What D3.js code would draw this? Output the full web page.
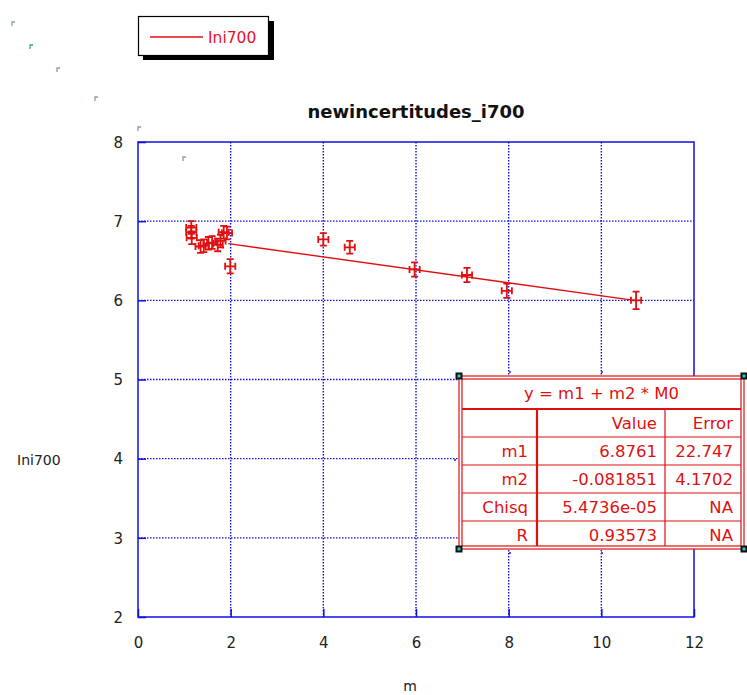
<!DOCTYPE html>
<html><head><meta charset="utf-8">
<script src="https://cdn.jsdelivr.net/npm/d3@7"></script>
<style>body{margin:0;background:#fff}svg{display:block}</style>
</head><body>
<script>
const mValues = [1.15, 1.15, 1.16, 1.35, 1.42, 1.52, 1.60, 1.72, 1.78, 1.85, 1.92, 1.99, 4.00, 4.57, 5.97, 7.10, 7.96, 10.75];
const iniValues = [6.92, 6.86, 6.79, 6.68, 6.69, 6.72, 6.73, 6.70, 6.75, 6.86, 6.85, 6.43, 6.77, 6.67, 6.39, 6.32, 6.12, 6.00];
const yErrors = [0.08, 0.08, 0.08, 0.08, 0.08, 0.08, 0.08, 0.08, 0.08, 0.08, 0.08, 0.09, 0.08, 0.08, 0.09, 0.09, 0.09, 0.11];
const xErrors = [0.11, 0.11, 0.11, 0.11, 0.11, 0.11, 0.11, 0.11, 0.11, 0.11, 0.11, 0.11, 0.11, 0.11, 0.11, 0.11, 0.11, 0.11];
const xTicks = [0, 2, 4, 6, 8, 10, 12];
const yTicks = [2, 3, 4, 5, 6, 7, 8];
const fitParams = {m1: 6.8761, m2: -0.081851};
const fitRange = [1.95, 10.75];
const tableTitle = "y = m1 + m2 * M0";
const tableHeader = ["", "Value", "Error"];
const tableRows = [["m1", "6.8761", "22.747"], ["m2", "-0.081851", "4.1702"], ["Chisq", "5.4736e-05", "NA"], ["R", "0.93573", "NA"]];
const seriesName = "Ini700";
const chartTitle = "newincertitudes_i700";
const xLabel = "m", yLabel = "Ini700";

const W = 747, H = 695;
const red = "#e01010", blue = "#1010e0";
const font = "DejaVu Sans, sans-serif";
const svg = d3.select("body").append("svg").attr("width", W).attr("height", H);

const L = 138, R = 694, T = 142, B = 617;
const x = d3.scaleLinear().domain([0, 12]).range([L, R]);
const y = d3.scaleLinear().domain([2, 8]).range([B, T]);

// stray marks top-left
const marks = [[12,22],[30,45],[57,68],[95,97],[138,127],[183,157]];
svg.append("g").selectAll("path").data(marks).join("path")
  .attr("d", d => `M${d[0]},${d[1]+4}V${d[1]}H${d[0]+3}`)
  .attr("fill", "none").attr("stroke", (d,i) => i===1 ? "#3a7" : "#889ab0").attr("stroke-width", 1.3);

// gridlines
const grid = svg.append("g");
grid.selectAll(".gx").data(xTicks.slice(1, -1)).join("line")
  .attr("x1", d => x(d)).attr("x2", d => x(d)).attr("y1", T).attr("y2", B)
  .attr("stroke", blue).attr("stroke-width", 1.4).attr("stroke-dasharray", "1.5,1.5");
grid.selectAll(".gy").data(yTicks.slice(1, -1)).join("line")
  .attr("y1", d => y(d)).attr("y2", d => y(d)).attr("x1", L).attr("x2", R)
  .attr("stroke", blue).attr("stroke-width", 1.4).attr("stroke-dasharray", "1.5,1.5");

// axes
const xAxis = d3.axisBottom(x).tickValues(xTicks).tickSize(-8).tickPadding(20).tickFormat(d3.format("d"));
const yAxis = d3.axisLeft(y).tickValues(yTicks).tickSize(-8).tickPadding(15).tickFormat(d3.format("d"));
const gx = svg.append("g").attr("transform", `translate(0,${B})`).call(xAxis);
const gy = svg.append("g").attr("transform", `translate(${L},0)`).call(yAxis);
[gx, gy].forEach(g => {
  g.select(".domain").remove();
  g.selectAll(".tick line").attr("stroke", blue).attr("stroke-width", 1.5);
  g.selectAll(".tick text").attr("fill", "#222").attr("font-family", font).attr("font-size", 15);
});
gy.selectAll(".tick text").attr("dy", "0.35em");
svg.append("rect").attr("x", L).attr("y", T).attr("width", R - L).attr("height", B - T)
  .attr("fill", "none").attr("stroke", blue).attr("stroke-width", 1.5);

// fit line
const fitLine = d3.line().x(d => x(d)).y(d => y(fitParams.m1 + fitParams.m2 * d));
svg.append("path").datum(fitRange).attr("d", fitLine)
  .attr("fill", "none").attr("stroke", red).attr("stroke-width", 1.4);

// error-bar markers
const pts = mValues.map((m, i) => ({m, v: iniValues[i], ey: yErrors[i], ex: xErrors[i]}));
const cap = 3.5;
svg.append("g").selectAll("path").data(pts).join("path")
  .attr("d", d => {
    const cx = x(d.m), cy = y(d.v);
    const x0 = x(d.m - d.ex), x1 = x(d.m + d.ex), y0 = y(d.v + d.ey), y1 = y(d.v - d.ey);
    return `M${cx},${y0}V${y1}M${cx-cap},${y0}H${cx+cap}M${cx-cap},${y1}H${cx+cap}` +
           `M${x0},${cy}H${x1}M${x0},${cy-cap}V${cy+cap}M${x1},${cy-cap}V${cy+cap}`;
  })
  .attr("fill", "none").attr("stroke", red).attr("stroke-width", 1.8);

// title and labels
svg.append("text").attr("x", (L + R) / 2).attr("y", 118).attr("text-anchor", "middle")
  .attr("font-family", font).attr("font-weight", "bold").attr("font-size", 18).attr("fill", "#111").text(chartTitle);
svg.append("text").attr("x", 17).attr("y", 465).attr("font-family", font).attr("font-size", 14).attr("fill", "#222").text(yLabel);
svg.append("text").attr("x", 410).attr("y", 691).attr("text-anchor", "middle").attr("font-family", font).attr("font-size", 14).attr("fill", "#222").text(xLabel);

// legend
const lg = svg.append("g");
lg.append("rect").attr("x", 143).attr("y", 21).attr("width", 131).attr("height", 39).attr("fill", "#000");
lg.append("rect").attr("x", 138.5).attr("y", 16.5).attr("width", 130).attr("height", 39).attr("fill", "#fff").attr("stroke", "#000").attr("stroke-width", 1.2);
lg.append("line").attr("x1", 150).attr("x2", 203).attr("y1", 37).attr("y2", 37).attr("stroke", red).attr("stroke-width", 1.3);
lg.append("text").attr("x", 208).attr("y", 43).attr("font-family", font).attr("font-size", 15.5).attr("fill", "#e8102c").text(seriesName);

// fit table
const tx0 = 459, tx1 = 744, ty0 = 376, ty1 = 549;
const colX = [tx0, 537, 665, tx1];
const rowY = [ty0, 409, 437, 465, 493, 521, ty1];
const tg = svg.append("g");
tg.append("rect").attr("x", tx0).attr("y", ty0).attr("width", tx1 - tx0).attr("height", ty1 - ty0).attr("fill", "#fff").attr("stroke", red).attr("stroke-width", 1.2);
tg.append("rect").attr("x", tx0 + 3).attr("y", ty0 + 3).attr("width", tx1 - tx0 - 6).attr("height", ty1 - ty0 - 6).attr("fill", "none").attr("stroke", red).attr("stroke-width", 1.2);
tg.selectAll(".rl").data(rowY.slice(1, -1)).join("line")
  .attr("x1", tx0 + 3).attr("x2", tx1 - 3).attr("y1", d => d).attr("y2", d => d)
  .attr("stroke", red).attr("stroke-width", (d, i) => i === 0 ? 2.2 : 1.2);
tg.selectAll(".cl").data(colX.slice(1, -1)).join("line")
  .attr("x1", d => d).attr("x2", d => d).attr("y1", rowY[1]).attr("y2", ty1 - 3)
  .attr("stroke", red).attr("stroke-width", (d, i) => i === 0 ? 2.2 : 1.2);
tg.append("text").attr("x", (tx0 + tx1) / 2).attr("y", 399).attr("text-anchor", "middle")
  .attr("font-family", font).attr("font-size", 16.5).attr("fill", red).text(tableTitle);
const allRows = [tableHeader].concat(tableRows);
const rightEdges = [528, 657, 733];
allRows.forEach((row, r) => {
  row.forEach((cell, c) => {
    tg.append("text").attr("x", rightEdges[c]).attr("y", rowY[r + 1] + 20).attr("text-anchor", "end")
      .attr("font-family", font).attr("font-size", 16.5).attr("fill", red).text(cell);
  });
});
// selection handles
const corners = [[tx0, ty0], [tx1, ty0], [tx0, ty1], [tx1, ty1]];
tg.selectAll(".h").data(corners).join("rect")
  .attr("x", d => d[0] - 3.5).attr("y", d => d[1] - 3.5).attr("width", 7).attr("height", 7).attr("fill", "#111");
tg.selectAll(".hc").data(corners).join("rect")
  .attr("x", d => d[0] - 1.5).attr("y", d => d[1] - 1.5).attr("width", 3).attr("height", 3).attr("fill", "#2cc");
const mids = [[510, ty0 - 4], [602, ty0 - 4], [510, ty1 + 4], [602, ty1 + 4], [tx0 - 4, 460]];
tg.selectAll(".m").data(mids).join("rect")
  .attr("x", d => d[0] - 1).attr("y", d => d[1] - 1).attr("width", 2).attr("height", 2).attr("fill", "#55c");
</script>
</body></html>
